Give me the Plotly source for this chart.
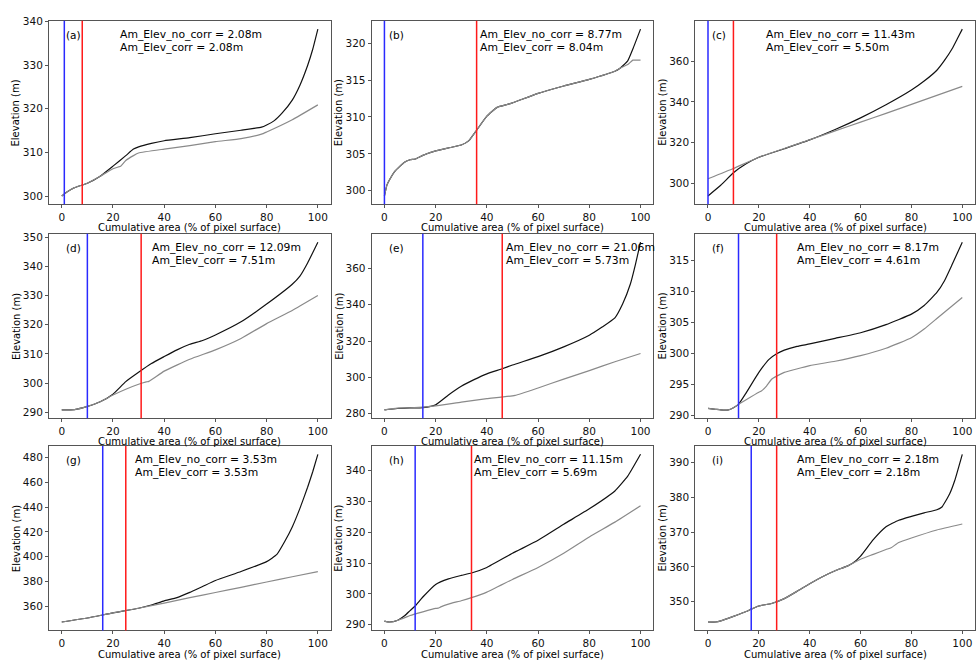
import plotly.graph_objects as go

# ---------------- data ----------------
panel_labels = ["(a)", "(b)", "(c)", "(d)", "(e)", "(f)", "(g)", "(h)", "(i)"]
am_elev_no_corr = [2.08, 8.77, 11.43, 12.09, 21.06, 8.17, 3.53, 11.15, 2.18]
am_elev_corr = [2.08, 8.04, 5.50, 7.51, 5.73, 4.61, 3.53, 5.69, 2.18]
blue_x = [1, 0, 0, 10, 15, 12, 16, 12, 17]
red_x = [8, 36, 10, 31, 46, 27, 25, 34, 27]

a_area_no_corr = [0, 2, 5, 10, 15, 20, 25, 28, 30, 35, 40, 50, 60, 70, 78, 80, 83, 86, 90, 93, 96, 98, 100]
a_elev_no_corr = [300.1, 301.0, 302.0, 303.0, 304.6, 306.9, 309.3, 310.8, 311.3, 312.1, 312.7, 313.4, 314.3, 315.1, 315.8, 316.3, 317.3, 319.0, 322.0, 325.4, 329.9, 333.6, 338.2]
a_area_corr = [0, 2, 5, 10, 15, 20, 22, 23, 25, 28, 30, 40, 50, 60, 70, 78, 80, 90, 100]
a_elev_corr = [300.1, 301.0, 302.0, 303.0, 304.6, 306.3, 306.7, 306.9, 308.2, 309.3, 309.9, 310.8, 311.6, 312.5, 313.2, 314.2, 314.7, 317.5, 320.9]

b_area_no_corr = [0, 1, 2, 4, 6, 8, 10, 12, 15, 20, 25, 30, 33, 36, 40, 44, 48, 50, 60, 70, 80, 90, 92, 95, 97, 100]
b_elev_no_corr = [299.3, 300.8, 301.5, 302.6, 303.3, 303.9, 304.2, 304.3, 304.8, 305.4, 305.8, 306.2, 306.8, 308.2, 310.1, 311.3, 311.7, 311.9, 313.2, 314.2, 315.1, 316.2, 316.6, 317.6, 319.2, 321.9]
b_area_corr = [0, 1, 2, 4, 6, 8, 10, 12, 15, 20, 25, 30, 33, 36, 40, 44, 48, 50, 60, 70, 80, 90, 92, 95, 97, 98, 100]
b_elev_corr = [299.3, 300.8, 301.5, 302.6, 303.3, 303.9, 304.2, 304.3, 304.8, 305.4, 305.8, 306.2, 306.8, 308.2, 310.1, 311.3, 311.7, 311.9, 313.2, 314.2, 315.1, 316.2, 316.6, 317.1, 317.7, 317.7, 317.7]

c_area_no_corr = [0, 5, 10, 15, 20, 30, 40, 50, 60, 70, 80, 85, 90, 93, 96, 98, 100]
c_elev_no_corr = [294.0, 299.2, 305.3, 309.7, 312.9, 317.1, 321.4, 326.5, 332.2, 338.6, 345.8, 350.2, 355.5, 360.3, 366.0, 370.8, 375.6]
c_area_corr = [0, 10, 20, 30, 40, 50, 60, 70, 80, 90, 100]
c_elev_corr = [302.4, 307.4, 312.9, 317.2, 321.5, 325.8, 330.1, 334.4, 338.8, 343.2, 347.6]

d_area_no_corr = [0, 5, 10, 15, 20, 25, 30, 35, 40, 45, 50, 55, 60, 70, 80, 90, 93, 96, 100]
d_elev_no_corr = [290.8, 290.9, 292.0, 293.6, 296.2, 300.5, 303.7, 306.7, 309.1, 311.4, 313.3, 314.6, 316.5, 321.0, 327.1, 333.9, 336.7, 341.2, 348.3]
d_area_corr = [0, 5, 10, 15, 20, 25, 30, 33, 34, 40, 50, 60, 70, 80, 90, 100]
d_elev_corr = [290.8, 290.9, 292.0, 293.6, 295.9, 297.9, 299.6, 300.4, 300.6, 304.1, 308.2, 311.4, 315.3, 320.4, 324.9, 330.0]

e_area_no_corr = [0, 5, 10, 15, 20, 25, 30, 35, 40, 46, 50, 60, 70, 80, 85, 90, 93, 96, 98, 100]
e_elev_no_corr = [282.0, 282.8, 283.1, 283.3, 284.8, 290.2, 295.0, 298.7, 301.9, 304.7, 306.8, 311.4, 316.8, 323.2, 327.7, 332.8, 340.4, 351.3, 362.2, 374.5]
e_area_corr = [0, 5, 10, 20, 30, 40, 51, 60, 70, 80, 90, 100]
e_elev_corr = [282.0, 283.0, 283.1, 284.2, 286.3, 288.2, 290.0, 294.1, 299.0, 303.7, 308.6, 313.1]

f_area_no_corr = [0, 3, 5, 8, 10, 12, 15, 20, 24, 27, 30, 35, 40, 50, 60, 70, 80, 85, 90, 93, 96, 100]
f_elev_no_corr = [291.1, 290.95, 290.85, 290.85, 291.2, 291.75, 293.6, 296.9, 299.0, 299.9, 300.5, 301.1, 301.5, 302.4, 303.3, 304.6, 306.3, 307.7, 309.8, 311.7, 314.3, 317.9]
f_area_corr = [0, 3, 5, 8, 10, 12, 15, 20, 21, 23, 25, 27, 30, 40, 50, 60, 70, 80, 85, 90, 95, 100]
f_elev_corr = [291.1, 290.95, 290.85, 290.85, 291.2, 291.75, 292.5, 293.7, 293.9, 294.7, 295.8, 296.3, 296.9, 298.0, 298.7, 299.6, 300.8, 302.5, 303.9, 305.6, 307.3, 309.0]

g_area_no_corr = [0, 10, 20, 30, 35, 40, 45, 50, 55, 60, 70, 80, 84, 87, 90, 93, 96, 98, 100]
g_elev_no_corr = [347.3, 350.5, 354.7, 358.4, 361.0, 364.3, 367.0, 371.2, 376.0, 380.8, 388.0, 396.0, 401.8, 412.0, 424.0, 439.0, 456.0, 468.5, 482.6]
g_area_corr = [0, 10, 20, 30, 40, 50, 60, 70, 80, 90, 100]
g_elev_corr = [347.3, 350.5, 354.7, 358.4, 362.6, 366.9, 371.1, 375.3, 379.6, 383.8, 388.0]

h_area_no_corr = [0, 2, 5, 8, 10, 12, 15, 20, 25, 30, 34, 40, 50, 60, 70, 80, 90, 95, 100]
h_elev_no_corr = [291.2, 290.9, 291.4, 293.0, 294.6, 296.1, 299.0, 303.1, 304.9, 306.0, 306.8, 308.6, 313.2, 317.4, 322.6, 327.6, 333.4, 338.2, 345.3]
h_area_corr = [0, 2, 5, 8, 10, 15, 20, 21, 22, 25, 30, 34, 40, 50, 60, 70, 80, 90, 100]
h_elev_corr = [291.2, 290.9, 291.4, 292.3, 293.0, 294.2, 295.3, 295.4, 295.8, 296.7, 297.8, 298.8, 300.6, 304.7, 308.6, 313.2, 318.5, 323.3, 328.6]

i_area_no_corr = [0, 3, 5, 10, 15, 17, 20, 25, 30, 35, 40, 45, 50, 55, 57, 60, 65, 70, 75, 80, 85, 90, 92, 95, 97, 100]
i_elev_no_corr = [344.2, 344.2, 344.5, 345.8, 347.2, 347.9, 348.8, 349.5, 350.9, 353.0, 355.2, 357.2, 358.9, 360.3, 361.1, 363.1, 367.8, 371.5, 373.4, 374.5, 375.5, 376.4, 377.2, 380.9, 384.7, 392.3]
i_area_corr = [0, 3, 5, 10, 15, 17, 20, 25, 30, 35, 40, 45, 50, 55, 60, 65, 70, 72, 75, 80, 90, 100]
i_elev_corr = [344.2, 344.2, 344.5, 345.8, 347.2, 347.9, 348.8, 349.5, 350.9, 353.0, 355.2, 357.2, 358.9, 360.3, 362.2, 363.6, 365.0, 365.5, 367.0, 368.3, 370.6, 372.3]

x_ticks = [0, 20, 40, 60, 80, 100]
y_ticks = [
    [300, 310, 320, 330, 340],
    [300, 305, 310, 315, 320],
    [300, 320, 340, 360],
    [290, 300, 310, 320, 330, 340, 350],
    [280, 300, 320, 340, 360],
    [290, 295, 300, 305, 310, 315],
    [360, 380, 400, 420, 440, 460, 480],
    [290, 300, 310, 320, 330, 340],
    [350, 360, 370, 380, 390],
]

series = [
    (a_area_no_corr, a_elev_no_corr, a_area_corr, a_elev_corr),
    (b_area_no_corr, b_elev_no_corr, b_area_corr, b_elev_corr),
    (c_area_no_corr, c_elev_no_corr, c_area_corr, c_elev_corr),
    (d_area_no_corr, d_elev_no_corr, d_area_corr, d_elev_corr),
    (e_area_no_corr, e_elev_no_corr, e_area_corr, e_elev_corr),
    (f_area_no_corr, f_elev_no_corr, f_area_corr, f_elev_corr),
    (g_area_no_corr, g_elev_no_corr, g_area_corr, g_elev_corr),
    (h_area_no_corr, h_elev_no_corr, h_area_corr, h_elev_corr),
    (i_area_no_corr, i_elev_no_corr, i_area_corr, i_elev_corr),
]

# ---------------- layout / style ----------------
W, H = 976, 661
col_px = [(49, 331), (372, 654), (696, 976)]
row_px = [(15, 201), (231, 418), (446, 633)]
text_x = [22.4, 36.8, 22.4, 34.8, 47.0, 34.7, 28.1, 34.5, 34.7]
FONT = "DejaVu Sans"

fig = go.Figure()
layout = dict(
    width=W, height=H, margin=dict(l=0, r=0, t=0, b=0),
    paper_bgcolor="white", plot_bgcolor="white", showlegend=False,
    font=dict(family=FONT, color="black"),
)
shapes, annotations = [], []

for k in range(9):
    r, c = divmod(k, 3)
    n = k + 1
    xs = "" if n == 1 else str(n)
    x0p, x1p = col_px[c]
    y0p, y1p = row_px[r]
    dom_x = [x0p / W, min(x1p / W, 1.0)]
    dom_y = [1 - y1p / H, 1 - y0p / H]
    ax_h = y1p - y0p
    ax_w = x1p - x0p
    xn, eln, xc, ec = series[k]
    ymin = min(min(eln), min(ec))
    ymax = max(max(eln), max(ec))
    pad = 0.05 * (ymax - ymin)

    fig.add_trace(go.Scatter(x=xn, y=eln, mode="lines", xaxis="x" + xs, yaxis="y" + xs,
                             line=dict(color="#111111", width=1.2, shape="spline", smoothing=0.4),
                             hoverinfo="skip"))
    fig.add_trace(go.Scatter(x=xc, y=ec, mode="lines", xaxis="x" + xs, yaxis="y" + xs,
                             line=dict(color="#8a8a8a", width=1.2, shape="spline", smoothing=0.4),
                             hoverinfo="skip"))

    axis_common = dict(showline=True, linecolor="#555555", linewidth=1, mirror=True,
                       ticks="outside", ticklen=3, tickwidth=1, tickcolor="#555555",
                       showgrid=False, zeroline=False,
                       tickfont=dict(family=FONT, size=10.5, color="#111111"))
    layout["xaxis" + xs] = dict(domain=dom_x, anchor="y" + xs, range=[-5, 105],
                                tickmode="array", tickvals=x_ticks, **axis_common)
    layout["yaxis" + xs] = dict(domain=dom_y, anchor="x" + xs,
                                range=[ymin - pad, ymax + pad],
                                tickmode="array", tickvals=y_ticks[k], **axis_common)

    shapes.append(dict(type="line", xref="x" + xs, yref="y" + xs + " domain",
                       x0=blue_x[k], x1=blue_x[k], y0=0, y1=1,
                       line=dict(color="#2a2aff", width=1.5)))
    shapes.append(dict(type="line", xref="x" + xs, yref="y" + xs + " domain",
                       x0=red_x[k], x1=red_x[k], y0=0, y1=1,
                       line=dict(color="#ff1a1a", width=1.5)))

    annotations.append(dict(text=panel_labels[k], xref="x" + xs + " domain", yref="y" + xs + " domain",
                            x=16 / ax_w, y=1 - 14 / ax_h, xanchor="left", yanchor="middle",
                            showarrow=False, borderpad=0, font=dict(size=10.5)))
    annotations.append(dict(text=f"Am_Elev_no_corr = {am_elev_no_corr[k]:.2f}m",
                            xref="x" + xs, yref="y" + xs + " domain",
                            x=text_x[k], y=1 - 14 / ax_h, xanchor="left", yanchor="middle",
                            showarrow=False, borderpad=0, font=dict(size=10.8)))
    annotations.append(dict(text=f"Am_Elev_corr = {am_elev_corr[k]:.2f}m",
                            xref="x" + xs, yref="y" + xs + " domain",
                            x=text_x[k], y=1 - 27 / ax_h, xanchor="left", yanchor="middle",
                            showarrow=False, borderpad=0, font=dict(size=10.8)))
    annotations.append(dict(text="Cumulative area (% of pixel surface)",
                            xref="x" + xs + " domain", yref="y" + xs + " domain",
                            x=0.5, y=-24 / ax_h, xanchor="center", yanchor="middle",
                            showarrow=False, borderpad=0, font=dict(size=10)))
    annotations.append(dict(text="Elevation (m)", textangle=-90,
                            xref="x" + xs + " domain", yref="y" + xs + " domain",
                            x=-33 / ax_w, y=0.5, xanchor="center", yanchor="middle",
                            showarrow=False, borderpad=0, font=dict(size=10)))

layout["shapes"] = shapes
layout["annotations"] = annotations
fig.update_layout(**layout)
fig.write_html("out.html")
